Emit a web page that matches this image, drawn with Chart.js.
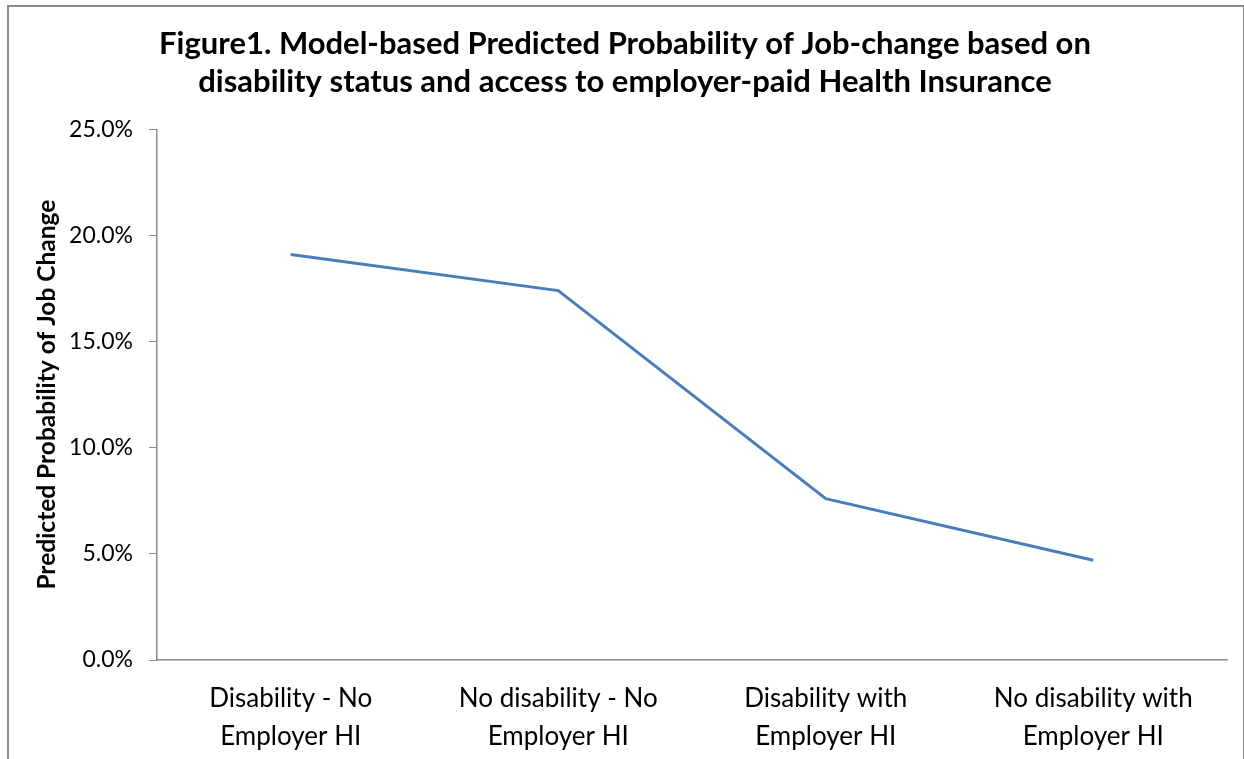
<!DOCTYPE html>
<html>
<head>
<meta charset="utf-8">
<script src="https://cdn.jsdelivr.net/npm/chart.js@4/dist/chart.umd.min.js"></script>
<style>
	body { margin: 0; background: #fff; overflow: hidden; }
	#frame { position: absolute; left: 7px; top: 5px; width: 1234px; height: 800px; border: 2px solid #8c8c8c; }
	#chart { position: absolute; left: 0; top: 0; }
</style>
</head>
<body>
<div id="frame"></div>
<canvas id="chart" width="1244" height="759"></canvas>
<script>
	'use strict';

	var categories = [
		[ 'Disability - No', 'Employer HI' ],
		[ 'No disability - No', 'Employer HI' ],
		[ 'Disability with', 'Employer HI' ],
		[ 'No disability with', 'Employer HI' ]
	];
	var probability = [ 19.1, 17.4, 7.6, 4.7 ];
	var title_lines = [
		'Figure1. Model-based Predicted Probability of Job-change based on',
		'disability status and access to employer-paid Health Insurance'
	];
	var y_title = 'Predicted Probability of Job Change';

	var font = 'Lato, "Open Sans", sans-serif';

	var chart = new Chart( document.getElementById( 'chart' ), {
		type: 'line',
		data: {
			labels: categories,
			datasets: [ {
				data: probability,
				borderColor: '#4a7ebb',
				borderWidth: 3,
				pointRadius: 0,
				tension: 0,
				fill: false
			} ]
		},
		options: {
			responsive: false,
			animation: false,
			// left padding keeps the title centred on the frame
			layout: { padding: { left: 23, right: 17, top: 0, bottom: 0 } },
			plugins: {
				legend: { display: false },
				tooltip: { enabled: false },
				title: {
					display: true,
					text: title_lines,
					color: '#000',
					font: { family: font, size: 31, weight: 'bold', lineHeight: 1.23 },
					padding: { top: 25, bottom: 28 }
				}
			},
			scales: {
				x: {
					offset: true,
					grid: { drawOnChartArea: false, drawTicks: false },
					border: { color: '#8c8c8c', width: 1.5 },
					ticks: {
						color: '#000',
						padding: 20,
						maxRotation: 0,
						autoSkip: false,
						font: { family: font, size: 26, lineHeight: 1.46 }
					},
					afterFit: function( s ) { s.height = 99; }
				},
				y: {
					min: 0,
					max: 25,
					grid: { drawOnChartArea: false, drawTicks: true, tickLength: 8, color: '#8c8c8c' },
					border: { color: '#8c8c8c', width: 1.5 },
					ticks: {
						stepSize: 5,
						color: '#000',
						padding: 16,
						font: { family: font, size: 23 },
						callback: function( v ) { return v.toFixed( 1 ) + '%'; }
					},
					title: {
						display: true,
						text: y_title,
						color: '#000',
						font: { family: font, size: 24.5, weight: 'bold' },
						padding: { top: 9, bottom: 0 }
					},
					afterFit: function( s ) { s.width = 134; }
				}
			}
		}
	} );
</script>
</body>
</html>
